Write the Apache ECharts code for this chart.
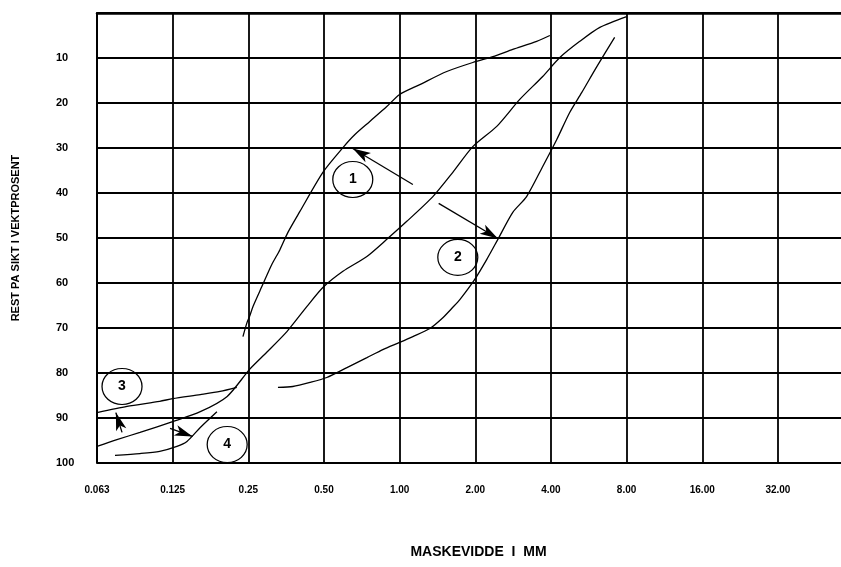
<!DOCTYPE html>
<html>
<head>
<meta charset="utf-8">
<title>Kornfordeling</title>
<script src="https://cdn.jsdelivr.net/npm/echarts@6/dist/echarts.min.js"></script>
<style>
  html, body { margin: 0; padding: 0; background: #fff; }
  #chart { width: 841px; height: 567px; }
</style>
</head>
<body>
<div id="chart"></div>
<script>
// Sieve openings (mm) shown on the log2 axis
const sieveTicks = [0.0625, 0.125, 0.25, 0.5, 1, 2, 4, 8, 16, 32];
const sieveLabels = ['0.063', '0.125', '0.25', '0.50', '1.00', '2.00', '4.00', '8.00', '16.00', '32.00'];
const restTicks = [10, 20, 30, 40, 50, 60, 70, 80, 90, 100];

// Curve 1 – upper left grading curve
const curve1Mm   = [0.238, 0.247, 0.253, 0.261, 0.283, 0.310, 0.334, 0.359, 0.401, 0.495, 0.595, 0.664, 0.761, 0.889, 1.00, 1.203, 1.54, 1.955, 2.35, 2.82, 3.51, 3.96];
const curve1Rest = [71.9, 68.8, 67.4, 65.2, 60.8, 55.9, 52.6, 48.8, 44.1, 35.4, 29.9, 27.0, 24.1, 20.8, 18.1, 15.9, 13.0, 11.0, 9.7, 8.1, 6.3, 5.0];

// Middle diagonal curve
const curveMidMm   = [0.0625, 0.075, 0.0927, 0.125, 0.161, 0.206, 0.253, 0.296, 0.356, 0.428, 0.495, 0.595, 0.741, 0.889, 1.068, 1.356, 1.628, 1.955, 2.435, 3.006, 3.71, 4.34, 5.21, 6.26, 8.0];
const curveMidRest = [96.3, 94.8, 93.2, 90.8, 88.6, 85.2, 79.2, 75.4, 70.8, 65.2, 61.0, 57.4, 54.1, 50.3, 46.3, 40.8, 35.4, 29.7, 25.2, 19.2, 14.1, 9.9, 6.3, 3.2, 0.8];

// Curve 2 – right grading curve
const curve2Mm   = [0.328, 0.376, 0.440, 0.513, 0.617, 0.741, 0.857, 1.00, 1.129, 1.319, 1.486, 1.628, 1.736, 1.99, 2.22, 2.46, 2.82, 3.20, 3.71, 4.22, 4.75, 5.30, 6.09, 7.17];
const curve2Rest = [83.2, 83.0, 82.1, 81.0, 78.8, 76.6, 74.8, 73.2, 71.9, 70.1, 67.7, 65.4, 63.7, 59.2, 54.8, 50.3, 44.3, 40.8, 34.1, 28.1, 22.1, 17.7, 11.9, 5.4];

// Curve 3 – flat fine-fraction curve
const curve3Mm   = [0.0625, 0.0823, 0.111, 0.125, 0.161, 0.193, 0.225];
const curve3Rest = [88.8, 87.4, 86.3, 85.7, 84.8, 84.1, 83.2];

// Curve 4 – lowest fine-fraction curve
const curve4Mm   = [0.0737, 0.0927, 0.111, 0.130, 0.1425, 0.161, 0.1875];
const curve4Rest = [98.3, 97.9, 97.4, 96.3, 95.2, 92.1, 88.6];

// Curve numbers in circles
const noteNames = ['1', '2', '3', '4'];
const noteMm    = [0.651, 1.704, 0.0786, 0.206];
const noteRest  = [37.0, 54.3, 83.0, 95.9];

// Pointer arrows: tail -> head
const arrowFromMm   = [1.129, 1.43, 0.0786, 0.122];
const arrowFromRest = [38.1, 42.3, 93.2, 92.3];
const arrowToMm     = [0.651, 2.46, 0.0743, 0.150];
const arrowToRest   = [30.1, 50.1, 88.8, 94.1];

function pairs(xs, ys) { return xs.map((x, i) => [x, ys[i]]); }

const labelFont = 'Liberation Sans, Arial, sans-serif';

function curveSeries(name, xs, ys) {
  return {
    name: name,
    type: 'line',
    data: pairs(xs, ys),
    showSymbol: false,
    smooth: 0.25,
    lineStyle: { color: '#000', width: 1.3 },
    silent: true,
    z: 3
  };
}

const chart = echarts.init(document.getElementById('chart'), null, { renderer: 'canvas' });

chart.setOption({
  animation: false,
  backgroundColor: '#fff',
  grid: { left: 97, right: -5, top: 13, bottom: 104, outerBoundsMode: 'none', containLabel: false },
  xAxis: {
    type: 'log',
    logBase: 2,
    min: 0.0625,
    max: Math.pow(2, 5.9),
    interval: 1,
    name: 'MASKEVIDDE  I  MM',
    nameLocation: 'middle',
    nameGap: 82,
    nameTextStyle: { color: '#000', fontFamily: labelFont, fontWeight: 'bold', fontSize: 14, padding: [0, 0, 0, 14] },
    axisLine: { show: true, lineStyle: { color: '#000', width: 2.5 } },
    axisTick: { show: false },
    axisLabel: {
      color: '#000',
      fontFamily: labelFont,
      fontWeight: 'bold',
      fontSize: 10,
      margin: 22,
      showMaxLabel: false,
      formatter: function (v) {
        for (let i = 0; i < sieveTicks.length; i++) {
          if (Math.abs(Math.log2(v) - Math.log2(sieveTicks[i])) < 0.01) return sieveLabels[i];
        }
        return '';
      }
    },
    splitLine: { show: true, lineStyle: { color: '#000', width: 1.8 } }
  },
  yAxis: {
    type: 'value',
    inverse: true,
    min: 0,
    max: 100,
    interval: 10,
    name: 'REST PA SIKT I VEKTPROSENT',
    nameLocation: 'middle',
    nameRotate: 90,
    nameGap: 76,
    nameTextStyle: { color: '#000', fontFamily: labelFont, fontWeight: 'bold', fontSize: 11 },
    axisLine: { show: true, lineStyle: { color: '#000', width: 2 } },
    axisTick: { show: false },
    axisLabel: {
      color: '#000',
      fontFamily: labelFont,
      fontWeight: 'bold',
      fontSize: 11,
      align: 'left',
      margin: 41,
      formatter: function (v) { return restTicks.indexOf(v) >= 0 ? String(v) : ''; }
    },
    splitLine: { show: true, lineStyle: { color: '#000', width: 1.8 } }
  },
  series: [
    curveSeries('1', curve1Mm, curve1Rest),
    curveSeries('mid', curveMidMm, curveMidRest),
    curveSeries('2', curve2Mm, curve2Rest),
    curveSeries('3', curve3Mm, curve3Rest),
    curveSeries('4', curve4Mm, curve4Rest),
    {
      name: 'notes',
      type: 'scatter',
      data: noteNames.map((n, i) => ({ name: n, value: [noteMm[i], noteRest[i]] })),
      symbol: 'circle',
      symbolSize: [40, 36],
      itemStyle: { color: 'rgba(255,255,255,0)', borderColor: '#000', borderWidth: 1.2, opacity: 1 },
      label: {
        show: true,
        position: 'inside',
        formatter: '{b}',
        color: '#000',
        fontFamily: labelFont,
        fontWeight: 'bold',
        fontSize: 14
      },
      silent: true,
      z: 4,
      markLine: {
        silent: true,
        animation: false,
        symbol: ['none', 'arrow'],
        symbolSize: [8, 18],
        label: { show: false },
        lineStyle: { color: '#000', width: 1.3, type: 'solid' },
        data: arrowFromMm.map((x, i) => [
          { coord: [x, arrowFromRest[i]] },
          { coord: [arrowToMm[i], arrowToRest[i]] }
        ])
      }
    }
  ]
});
</script>
</body>
</html>
